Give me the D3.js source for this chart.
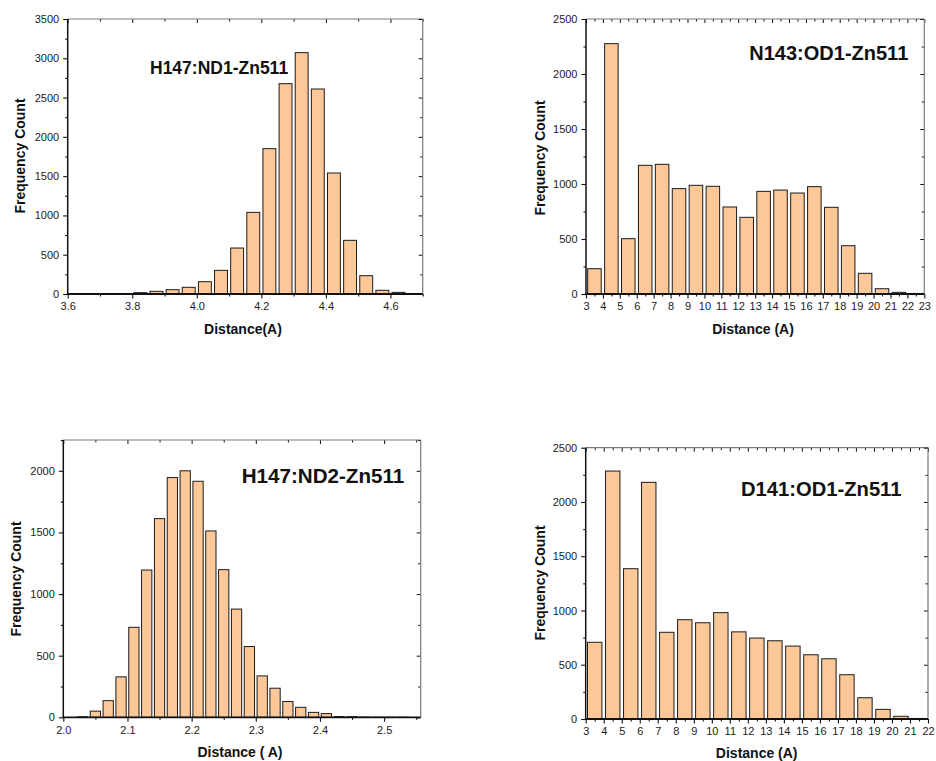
<!DOCTYPE html>
<html>
<head>
<meta charset="utf-8">
<script src="https://cdn.jsdelivr.net/npm/d3@7/dist/d3.min.js"></script>
<style>
  html, body { margin: 0; padding: 0; background: #fff; }
  svg { display: block; font-family: Arial, "Liberation Sans", sans-serif; }
</style>
</head>
<body>
<svg id="chart" width="936" height="761"></svg>
<script>
// Histogram bin centres and counts for each Zn511 contact distance
const nd1Centers = [3.625, 3.675, 3.725, 3.775, 3.825, 3.875, 3.925, 3.975, 4.025, 4.075, 4.125,
                    4.175, 4.225, 4.275, 4.325, 4.375, 4.425, 4.475, 4.525, 4.575, 4.625];
const nd1Counts  = [2, 3, 4, 6, 17, 34, 55, 85, 157, 301, 585,
                    1039, 1850, 2677, 3072, 2609, 1540, 683, 233, 47, 21];

const od1nCenters = [3.5, 4.5, 5.5, 6.5, 7.5, 8.5, 9.5, 10.5, 11.5, 12.5,
                     13.5, 14.5, 15.5, 16.5, 17.5, 18.5, 19.5, 20.5, 21.5, 22.5];
const od1nCounts  = [230, 2276, 503, 1170, 1179, 958, 988, 979, 791, 697,
                     933, 945, 918, 976, 788, 439, 188, 48, 15, 5];

const nd2Centers = [2.03, 2.05, 2.07, 2.09, 2.11, 2.13, 2.15, 2.17, 2.19, 2.21, 2.23, 2.25,
                    2.27, 2.29, 2.31, 2.33, 2.35, 2.37, 2.39, 2.41, 2.43, 2.45, 2.47, 2.49, 2.51, 2.53];
const nd2Counts  = [4, 50, 135, 328, 730, 1195, 1612, 1945, 2000, 1915, 1512, 1198,
                    878, 574, 336, 236, 128, 81, 40, 30, 6, 5, 2, 1, 1, 1];

const od1dCenters = [3.5, 4.5, 5.5, 6.5, 7.5, 8.5, 9.5, 10.5, 11.5, 12.5,
                     13.5, 14.5, 15.5, 16.5, 17.5, 18.5, 19.5, 20.5, 21.5];
const od1dCounts  = [707, 2285, 1385, 2181, 799, 915, 887, 980, 803, 746,
                     721, 672, 592, 555, 408, 196, 89, 25, 5];

// Axis tick values
const nd1XTicks  = [3.6, 3.8, 4.0, 4.2, 4.4, 4.6];
const nd1XMinor  = [3.7, 3.9, 4.1, 4.3, 4.5, 4.7];
const nd2XTicks  = [2.0, 2.1, 2.2, 2.3, 2.4, 2.5];
const nd2XMinor  = [2.05, 2.15, 2.25, 2.35, 2.45, 2.55];
const od1nXTicks = d3.range(3, 24);
const od1dXTicks = d3.range(3, 23);

const panels = [
  { title: "H147:ND1-Zn511", xTitle: "Distance(A)",
    centers: nd1Centers, counts: nd1Counts, binWidth: 0.05,
    xDomain: [3.6, 4.7], yDomain: [0, 3500],
    xTicks: nd1XTicks, xMinor: nd1XMinor, xFmt: d3.format(".1f"),
    box: { left: 67.7, right: 422.7, top: 19, bottom: 294 },
    titlePos: { x: 150, y: 74, size: 17.5 },
    yLabel: { x: 25, y: 156 }, xLabel: { x: 243, y: 334 } },
  { title: "N143:OD1-Zn511", xTitle: "Distance (A)",
    centers: od1nCenters, counts: od1nCounts, binWidth: 1,
    xDomain: [3, 23], yDomain: [0, 2500],
    xTicks: od1nXTicks, xMinor: od1nXTicks.slice(0, -1).map(v => v + 0.5), xFmt: d3.format("d"),
    box: { left: 586, right: 924.3, top: 19, bottom: 294 },
    titlePos: { x: 749.3, y: 60, size: 20 },
    yLabel: { x: 545, y: 158 }, xLabel: { x: 753, y: 334 } },
  { title: "H147:ND2-Zn511", xTitle: "Distance ( A)",
    centers: nd2Centers, counts: nd2Counts, binWidth: 0.02,
    xDomain: [2.0, 2.557], yDomain: [0, 2250],
    xTicks: nd2XTicks, xMinor: nd2XMinor, xFmt: d3.format(".1f"),
    box: { left: 63.3, right: 420.7, top: 440, bottom: 717.3 },
    titlePos: { x: 241.7, y: 483.3, size: 20.6 },
    yLabel: { x: 20.5, y: 579 }, xLabel: { x: 240, y: 757 } },
  { title: "D141:OD1-Zn511", xTitle: "Distance (A)",
    centers: od1dCenters, counts: od1dCounts, binWidth: 1,
    xDomain: [3, 22], yDomain: [0, 2500],
    xTicks: od1dXTicks, xMinor: od1dXTicks.slice(0, -1).map(v => v + 0.5), xFmt: d3.format("d"),
    box: { left: 585.7, right: 928, top: 447.7, bottom: 719 },
    titlePos: { x: 741, y: 495.7, size: 20.2 },
    yLabel: { x: 544.5, y: 583 }, xLabel: { x: 756.7, y: 758 } }
];

const svg = d3.select("#chart");
const barFill = "#fdc897";
const barStroke = "#1c1c1c";
const frameGray = "#7a7a7a";
const tickText = "#1a1a1a";

function drawPanel(p) {
  const b = p.box;
  const x = d3.scaleLinear().domain(p.xDomain).range([b.left, b.right]);
  const y = d3.scaleLinear().domain(p.yDomain).range([b.bottom, b.top]);
  const g = svg.append("g");

  const yMajor = d3.range(p.yDomain[0], p.yDomain[1] + 1, 500);
  const yMinor = d3.range(250, p.yDomain[1] + 1, 500);

  // bars
  const barW = Math.abs(x(p.binWidth) - x(0)) * 0.8;
  g.append("g").selectAll("rect")
    .data(p.centers.map((c, i) => ({ c, v: p.counts[i] })))
    .join("rect")
      .attr("x", d => x(d.c) - barW / 2)
      .attr("width", barW)
      .attr("y", d => y(d.v))
      .attr("height", d => y(0) - y(d.v))
      .attr("fill", barFill)
      .attr("stroke", barStroke)
      .attr("stroke-width", 1);

  // mirrored top/right frame with inward ticks
  const top = g.append("g").attr("transform", `translate(0,${b.top})`)
    .call(d3.axisBottom(x).tickValues(p.xTicks).tickSize(4).tickFormat(""));
  top.append("g").call(d3.axisBottom(x).tickValues(p.xMinor).tickSize(2.5).tickFormat(""));
  top.selectAll(".domain").remove();
  top.selectAll("line").attr("stroke", "#111");
  g.append("line").attr("x1", b.left).attr("x2", b.right).attr("y1", b.top).attr("y2", b.top)
    .attr("stroke", frameGray).attr("stroke-width", 1.2);

  const right = g.append("g").attr("transform", `translate(${b.right},0)`)
    .call(d3.axisLeft(y).tickValues(yMajor).tickSize(4).tickFormat(""));
  right.append("g").call(d3.axisLeft(y).tickValues(yMinor).tickSize(2.5).tickFormat(""));
  right.selectAll(".domain").remove();
  right.selectAll("line").attr("stroke", "#111");
  g.append("line").attr("x1", b.right).attr("x2", b.right).attr("y1", b.top).attr("y2", b.bottom)
    .attr("stroke", frameGray).attr("stroke-width", 1.2);

  // bottom axis, outward ticks
  const bottom = g.append("g").attr("transform", `translate(0,${b.bottom})`)
    .call(d3.axisBottom(x).tickValues(p.xTicks).tickSize(4.5).tickPadding(4).tickFormat(p.xFmt));
  bottom.append("g").call(d3.axisBottom(x).tickValues(p.xMinor).tickSize(2.5).tickFormat(""));
  bottom.selectAll(".domain").remove();
  bottom.selectAll("line").attr("stroke", "#111").attr("stroke-width", 1.1);
  bottom.selectAll("text").attr("font-size", 11).attr("fill", tickText)
    .attr("font-family", "Arial, 'Liberation Sans', sans-serif");

  // left axis, outward ticks
  const left = g.append("g").attr("transform", `translate(${b.left},0)`)
    .call(d3.axisLeft(y).tickValues(yMajor).tickSize(4.5).tickPadding(4).tickFormat(d3.format("d")));
  left.append("g").call(d3.axisLeft(y).tickValues(yMinor).tickSize(2.5).tickFormat(""));
  left.selectAll(".domain").remove();
  left.selectAll("line").attr("stroke", "#111").attr("stroke-width", 1.1);
  left.selectAll("text").attr("font-size", 11).attr("fill", tickText)
    .attr("font-family", "Arial, 'Liberation Sans', sans-serif");

  g.append("line").attr("x1", b.left).attr("x2", b.left).attr("y1", b.top).attr("y2", b.bottom + 0.8)
    .attr("stroke", "#111").attr("stroke-width", 1.5);
  g.append("line").attr("x1", b.left - 0.7).attr("x2", b.right).attr("y1", b.bottom).attr("y2", b.bottom)
    .attr("stroke", "#111").attr("stroke-width", 1.8);

  // panel title
  g.append("text")
    .attr("x", p.titlePos.x).attr("y", p.titlePos.y)
    .attr("font-size", p.titlePos.size).attr("font-weight", "bold").attr("fill", "#111")
    .text(p.title);

  // axis titles
  g.append("text")
    .attr("transform", `translate(${p.yLabel.x},${p.yLabel.y}) rotate(-90)`)
    .attr("text-anchor", "middle")
    .attr("font-size", 14).attr("font-weight", "bold").attr("fill", "#111")
    .text("Frequency Count");
  g.append("text")
    .attr("x", p.xLabel.x).attr("y", p.xLabel.y)
    .attr("text-anchor", "middle")
    .attr("font-size", 14).attr("font-weight", "bold").attr("fill", "#111")
    .text(p.xTitle);
}

panels.forEach(drawPanel);
</script>
</body>
</html>
